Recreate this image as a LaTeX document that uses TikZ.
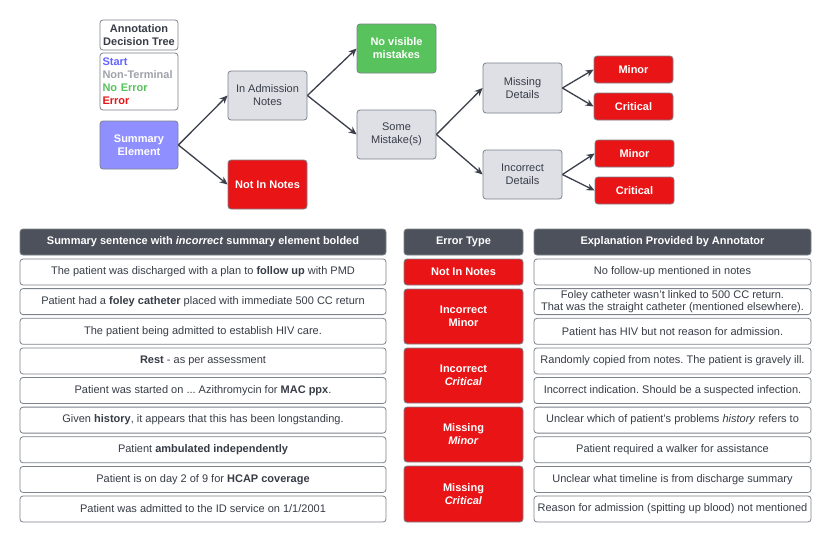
\documentclass[tikz,border=0pt]{standalone}
\usepackage{fontspec}
\setmainfont{Liberation Sans}
\usetikzlibrary{arrows.meta}
\frenchspacing
\definecolor{errred}{RGB}{232,20,22}
\definecolor{okgreen}{RGB}{88,194,92}
\definecolor{startblue}{RGB}{143,143,255}
\definecolor{startblt}{RGB}{100,100,255}
\definecolor{ntgray}{RGB}{160,162,170}
\definecolor{nodegray}{RGB}{222,224,230}
\definecolor{bordgray}{RGB}{125,130,140}
\definecolor{headdark}{RGB}{76,81,91}
\definecolor{txtdark}{RGB}{55,60,70}
\definecolor{arrowc}{RGB}{58,63,74}
\begin{document}
\frenchspacing
\begin{tikzpicture}[x=1pt,y=-1pt,
  base/.style={draw=bordgray, line width=0.8pt, rounded corners=3pt, inner sep=1pt, align=center,
    font=\fontsize{11}{13}\selectfont},
  treebox/.style={base, minimum width=79pt, minimum height=49pt},
  graybox/.style={treebox, fill=nodegray, text=txtdark},
  redtree/.style={treebox, fill=errred, text=white, font=\fontsize{11}{13}\selectfont\bfseries},
  smallred/.style={base, fill=errred, text=white, minimum width=79pt, minimum height=27pt, font=\fontsize{11}{13}\selectfont\bfseries},
  headbox/.style={base, fill=headdark, text=white, minimum height=26pt, font=\fontsize{11}{13}\selectfont\bfseries},
  rowbox/.style={base, fill=white, text=txtdark, minimum width=366pt, minimum height=26pt},
  expbox/.style={base, fill=white, text=txtdark, minimum width=277pt, minimum height=26pt, font=\fontsize{11}{12.5}\selectfont},
  etbox/.style={base, fill=errred, text=white, minimum width=119pt, font=\fontsize{11}{13}\selectfont\bfseries},
  arr/.style={draw=arrowc, line width=1.3pt, -{Stealth[length=8pt,width=7pt]}}
]
\fill[white] (0,0) rectangle (830,542);
\useasboundingbox (0,0) rectangle (830,542);

% legend
\node[base, fill=white, text=txtdark, minimum width=78pt, minimum height=30pt, font=\fontsize{11}{13}\selectfont\bfseries] (legtitle) at (139,35) {Annotation\\Decision Tree};
\node[base, fill=white, minimum width=78pt, minimum height=57pt, text width=73pt, align=left, font=\fontsize{11}{13}\selectfont\bfseries] (legend) at (139,81.5)
  {\textcolor{startblt}{Start}\\\textcolor{ntgray}{Non-Terminal}\\\textcolor{okgreen}{No Error}\\\textcolor{errred}{Error}};

% tree
\node[treebox, fill=startblue, text=white, minimum width=78pt, minimum height=48pt, font=\fontsize{11}{13}\selectfont\bfseries] (se) at (139,145) {Summary\\Element};
\node[graybox] (ian) at (267.5,95.5) {In Admission\\Notes};
\node[redtree] (nin) at (267.5,184.5) {Not In Notes};
\node[treebox, fill=okgreen, text=white, font=\fontsize{11}{13}\selectfont\bfseries] (nvm) at (396.5,48.5) {No visible\\mistakes};
\node[graybox] (sm) at (396.5,134.5) {Some\\Mistake(s)};
\node[graybox, minimum height=50pt] (md) at (522.5,88) {Missing\\Details};
\node[graybox] (idt) at (522.5,174.5) {Incorrect\\Details};
\node[smallred] (mi1) at (633.5,69.5) {Minor};
\node[smallred] (cr1) at (633.5,106.5) {Critical};
\node[smallred] (mi2) at (634.5,153.5) {Minor};
\node[smallred] (cr2) at (634.5,190.5) {Critical};

\draw[arr] (se.east) -- (ian.west);
\draw[arr] (se.east) -- (nin.west);
\draw[arr] (ian.east) -- (nvm.west);
\draw[arr] (ian.east) -- (sm.west);
\draw[arr] (sm.east) -- (md.west);
\draw[arr] (sm.east) -- (idt.west);
\draw[arr] (md.east) -- (mi1.west);
\draw[arr] (md.east) -- (cr1.west);
\draw[arr] (idt.east) -- (mi2.west);
\draw[arr] (idt.east) -- (cr2.west);

% table headers
\node[headbox, minimum width=366pt] (h1) at (203,242) {Summary sentence with \textit{incorrect} summary element bolded};
\node[headbox, minimum width=119pt] (h2) at (463.5,242) {Error Type};
\node[headbox, minimum width=277pt] (h3) at (672.5,242) {Explanation Provided by Annotator};

% sentences
\node[rowbox] (r1) at (203,272) {The patient was discharged with a plan to \textbf{follow up} with PMD};
\node[rowbox] (r2) at (203,301.6) {Patient had a \textbf{foley catheter} placed with immediate 500 CC return};
\node[rowbox] (r3) at (203,331.3) {The patient being admitted to establish HIV care.};
\node[rowbox] (r4) at (203,360.9) {\textbf{Rest} - as per assessment};
\node[rowbox] (r5) at (203,390.5) {Patient was started on ... Azithromycin for \textbf{MAC ppx}.};
\node[rowbox] (r6) at (203,420.1) {Given \textbf{history}, it appears that this has been longstanding.};
\node[rowbox] (r7) at (203,449.8) {Patient \textbf{ambulated independently}};
\node[rowbox] (r8) at (203,479.4) {Patient is on day 2 of 9 for \textbf{HCAP coverage}};
\node[rowbox] (r9) at (203,509) {Patient was admitted to the ID service on 1/1/2001};

% error types
\node[etbox, minimum height=26pt] (e1) at (463.5,272) {Not In Notes};
\node[etbox, minimum height=55pt] (e2) at (463.5,316.5) {Incorrect\\Minor};
\node[etbox, minimum height=55pt] (e3) at (463.5,375.5) {Incorrect\\\textit{Critical}};
\node[etbox, minimum height=55pt] (e4) at (463.5,434.5) {Missing\\\textit{Minor}};
\node[etbox, minimum height=56pt] (e5) at (463.5,494) {Missing\\\textit{Critical}};

% explanations
\node[expbox] (x1) at (672.5,272) {No follow-up mentioned in notes};
\node[expbox] (x2) at (672.5,301.6) {Foley catheter wasn't linked to 500 CC return.\\That was the straight catheter (mentioned elsewhere).};
\node[expbox] (x3) at (672.5,331.3) {Patient has HIV but not reason for admission.};
\node[expbox] (x4) at (672.5,360.9) {Randomly copied from notes. The patient is gravely ill.};
\node[expbox] (x5) at (672.5,390.5) {Incorrect indication. Should be a suspected infection.};
\node[expbox] (x6) at (672.5,420.1) {Unclear which of patient's problems \textit{history} refers to};
\node[expbox] (x7) at (672.5,449.8) {Patient required a walker for assistance};
\node[expbox] (x8) at (672.5,479.4) {Unclear what timeline is from discharge summary};
\node[expbox] (x9) at (672.5,509) {Reason for admission (spitting up blood) not mentioned};
\end{tikzpicture}
\end{document}
